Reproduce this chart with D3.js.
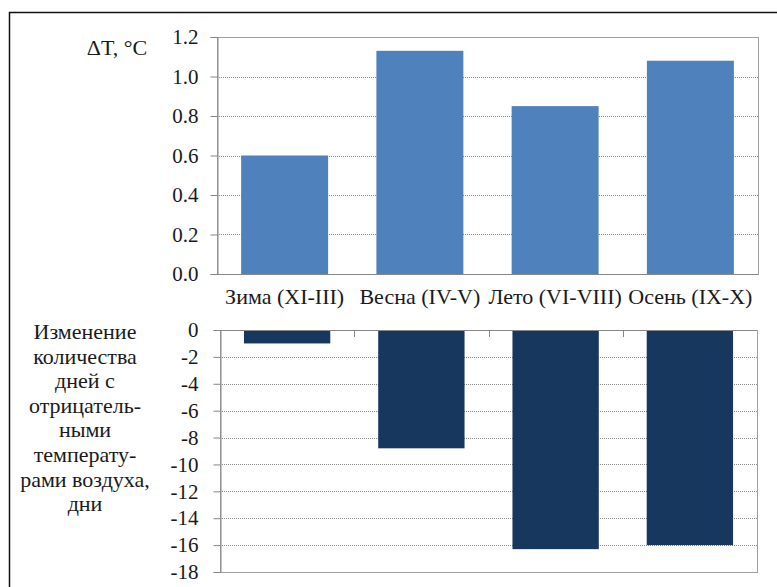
<!DOCTYPE html>
<html><head><meta charset="utf-8">
<script src="https://cdn.jsdelivr.net/npm/d3@7"></script>
</head><body style="margin:0"><svg id="c" width="777" height="587" font-family="Liberation Serif"></svg>
<script>
const categories = ["Зима (XI-III)", "Весна (IV-V)", "Лето (VI-VIII)", "Осень (IX-X)"];
const deltaT = [0.60, 1.13, 0.85, 1.08];
const daysChange = [-1.0, -8.8, -16.3, -16.0];
const topTicks = [0, 0.2, 0.4, 0.6, 0.8, 1.0, 1.2];
const bottomTicks = [0, -2, -4, -6, -8, -10, -12, -14, -16, -18];
const topTitle = "ΔT, °C";
const bottomTitle = ["Изменение", "количества", "дней с", "отрицатель-", "ными", "температу-", "рами воздуха,", "дни"];

const FS = 22;
const FS_TICK = 21;
const TXT = "#1a1a1a";
const axisCol = "#878787";

const svg = d3.select("#c");
svg.append("rect").attr("x", 9.5).attr("y", 12.5).attr("width", 800).attr("height", 600)
  .attr("fill", "none").attr("stroke", "#111").attr("stroke-width", 1.5);

function styleText(sel, size) {
  return sel.attr("font-family", "Liberation Serif").style("font-family", '"Liberation Serif"')
    .attr("font-size", size || FS).attr("fill", TXT);
}

function panel(cfg) {
  const x = d3.scaleBand().domain(categories).range([cfg.left, cfg.right]).paddingInner(0.357).paddingOuter(0.1785);
  const y = d3.scaleLinear().domain(cfg.domain).range([cfg.bottom, cfg.top]);
  const g = svg.append("g");
  g.selectAll(".grid").data(cfg.ticks.filter(t => t !== cfg.baseTick && t !== cfg.edgeTick)).join("line")
    .attr("x1", cfg.left).attr("x2", cfg.right)
    .attr("y1", d => Math.round(y(d)) + 0.5).attr("y2", d => Math.round(y(d)) + 0.5)
    .attr("stroke", "#8a8a8a").attr("stroke-width", 1).attr("stroke-dasharray", "1,1");
  const yt = Math.min(y(cfg.domain[1]), y(cfg.domain[0])), yb = Math.max(y(cfg.domain[1]), y(cfg.domain[0]));
  g.append("rect").attr("x", cfg.left + 0.5).attr("y", Math.round(yt) + 0.5)
    .attr("width", cfg.right - cfg.left).attr("height", Math.round(yb) - Math.round(yt))
    .attr("fill", "none").attr("stroke", "#a0a0a0").attr("stroke-width", 1);
  g.selectAll(".bar").data(cfg.values).join("rect")
    .attr("x", (d, i) => x(categories[i]))
    .attr("width", x.bandwidth())
    .attr("y", d => y(Math.max(0, d)))
    .attr("height", d => Math.abs(y(d) - y(0)))
    .attr("fill", cfg.color);
  const ax = d3.axisLeft(y).tickValues(cfg.ticks).tickSize(7).tickPadding(cfg.pad).tickFormat(cfg.fmt);
  const ga = g.append("g").attr("transform", `translate(${cfg.left + 0.5},0)`).call(ax)
    .attr("font-family", "Liberation Serif").attr("font-size", FS_TICK);
  ga.select(".domain").attr("stroke", axisCol);
  ga.selectAll(".tick line").attr("stroke", axisCol);
  styleText(ga.selectAll(".tick text"), FS_TICK);
  g.append("line").attr("x1", cfg.left).attr("x2", cfg.right)
    .attr("y1", Math.round(y(0)) + 0.5).attr("y2", Math.round(y(0)) + 0.5)
    .attr("stroke", axisCol).attr("stroke-width", 1);
  return {x, y, g};
}

const upper = panel({left: 217, right: 758, top: 37, bottom: 274, domain: [0, 1.2], pad: 12,
  ticks: topTicks, values: deltaT, color: "#4F81BD", baseTick: 0, edgeTick: 1.2, fmt: d3.format(".1f")});
const lower = panel({left: 220, right: 757, top: 330, bottom: 572, domain: [-18, 0], pad: 15,
  ticks: bottomTicks, values: daysChange, color: "#17375E", baseTick: 0, edgeTick: -18, fmt: d => String(d)});

const bnds = [1, 2, 3].map(i => lower.x(categories[i]) - lower.x.step() * lower.x.paddingInner() / 2);
svg.selectAll(".bt").data(bnds).join("line")
  .attr("x1", d => Math.round(d) + 0.5).attr("x2", d => Math.round(d) + 0.5)
  .attr("y1", 330).attr("y2", 337).attr("stroke", axisCol);

styleText(svg.selectAll(".cat").data(categories).join("text")
  .attr("x", d => upper.x(d) + upper.x.bandwidth() / 2)
  .attr("y", 304)
  .attr("text-anchor", "middle").text(d => d));

styleText(svg.append("text").attr("x", 117).attr("y", 55).attr("text-anchor", "middle").text(topTitle));
styleText(svg.append("g").selectAll("text").data(bottomTitle).join("text")
  .attr("x", 85).attr("y", (d, i) => 339 + i * 24.6)
  .attr("text-anchor", "middle").text(d => d));
</script></body></html>
